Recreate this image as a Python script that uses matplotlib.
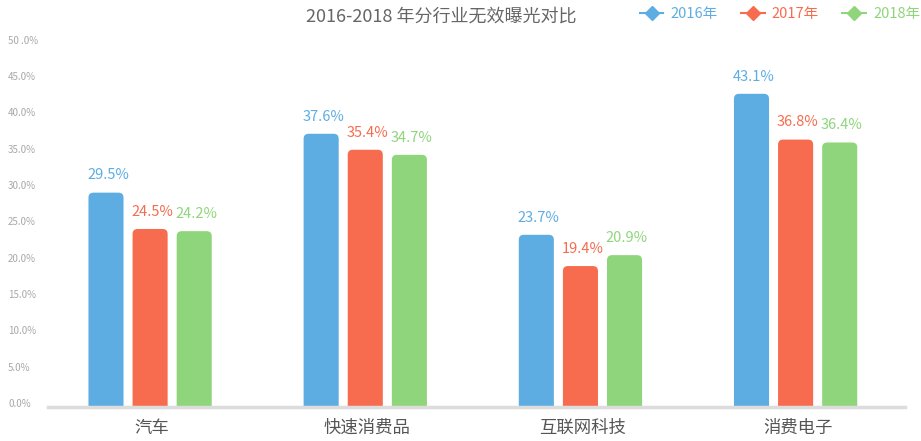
import numpy as np
import matplotlib
matplotlib.use("Agg")
import matplotlib.pyplot as plt
from matplotlib.patches import FancyBboxPatch
from matplotlib.lines import Line2D
from matplotlib.transforms import blended_transform_factory

plt.rcParams['font.family'] = ['Noto Sans CJK SC', 'DejaVu Sans']

# данные графика
categories = ["汽车", "快速消费品", "互联网科技", "消费电子"]
years = ["2016年", "2017年", "2018年"]
values_2016 = [29.5, 37.6, 23.7, 43.1]
values_2017 = [24.5, 35.4, 19.4, 36.8]
values_2018 = [24.2, 34.7, 20.9, 36.4]
ytick_values = [0, 5, 10, 15, 20, 25, 30, 35, 40, 45, 50]
ytick_labels = ["0.0%", "5.0%", "10.0%", "15.0%", "20.0%", "25.0%",
                "30.0%", "35.0%", "40.0%", "45.0%", "50 .0%"]
title = "2016-2018 年分行业无效曝光对比"

colors = ["#5eade2", "#f76c4f", "#8fd57b"]
series = [values_2016, values_2017, values_2018]

fig = plt.figure(figsize=(9.21, 4.41), dpi=100)
ax = fig.add_axes([0.052, 0.077, 0.931, 0.824])
ax.set_xlim(-0.475, 3.51)
ax.set_ylim(0, 50)

x = np.arange(len(categories))
width = 0.163
offset = 0.205

# пересчёт радиуса скругления под разные масштабы осей
ax_w_px = 0.931 * 921
ax_h_px = 0.824 * 441
px_x = (3.51 + 0.475) / ax_w_px
px_y = 50 / ax_h_px
radius = 5 * px_x

for i, vals in enumerate(series):
    for xi, v in zip(x, vals):
        left = xi + (i - 1) * offset - width / 2
        patch = FancyBboxPatch((left, -10), width, v + 10,
                               boxstyle=f"round,pad=0,rounding_size={radius}",
                               mutation_aspect=px_y / px_x,
                               facecolor=colors[i], edgecolor="none", zorder=2)
        ax.add_patch(patch)
        ax.text(xi + (i - 1) * offset + 0.01, v + 1.4, f"{v:.1f}%",
                ha="center", va="bottom", fontsize=10.5, color=colors[i], zorder=3)

# базовая линия
ax.axhline(0, color="#dcdcdc", linewidth=2.5, zorder=3, clip_on=False)

for s in ax.spines.values():
    s.set_visible(False)
ax.set_xticks([])
ax.set_yticks([])

# подписи оси Y (выровнены по левому краю рисунка)
trans = blended_transform_factory(fig.transFigure, ax.transData)
for v, lab in zip(ytick_values, ytick_labels):
    ax.text(8 / 921, v + 0.4, lab, ha="left", va="center",
            fontsize=7, color="#a8a8a8", transform=trans)

# подписи категорий
for xi, c in zip(x, categories):
    ax.text(xi + 0.01, -2.9, c, ha="center", va="center", fontsize=12.5,
            color="#555555")

# заголовок
fig.text(0.479, 0.962, title, ha="center", va="center", fontsize=13,
         color="#666666")

# легенда
handles = [Line2D([0], [0], color=c, marker="D", markersize=7, linewidth=1.5)
           for c in colors]
leg = fig.legend(handles, years, loc="center", bbox_to_anchor=(0.847, 0.968),
                 ncol=3, frameon=False, fontsize=10.5, handlelength=1.6,
                 handletextpad=0.5, columnspacing=1.6)
for t, c in zip(leg.get_texts(), colors):
    t.set_color(c)

fig.savefig("out.png", dpi=100)
